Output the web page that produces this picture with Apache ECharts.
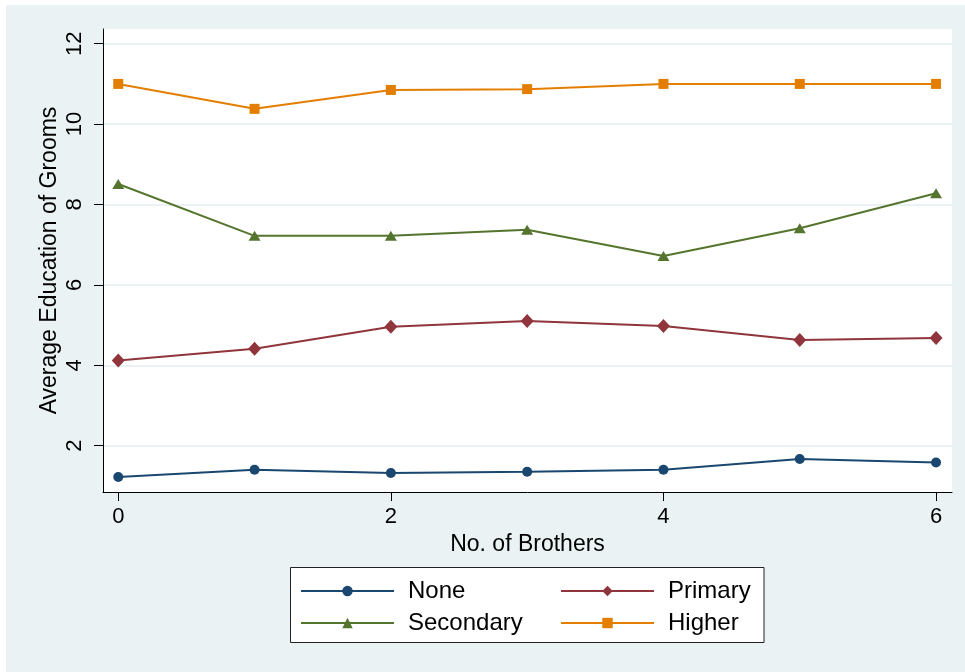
<!DOCTYPE html>
<html>
<head>
<meta charset="utf-8">
<script src="https://cdn.jsdelivr.net/npm/echarts@6/dist/echarts.min.js"></script>
<style>
  html, body { margin: 0; padding: 0; background: #ffffff; }
  #chart { width: 965px; height: 672px; }
</style>
</head>
<body>
<div id="chart"></div>
<script>
// Number of brothers (x) and average education of grooms per father's education group
const brothers = [0, 1, 2, 3, 4, 5, 6];
const none = [1.22, 1.40, 1.32, 1.35, 1.40, 1.67, 1.58];
const primary = [4.12, 4.41, 4.96, 5.10, 4.98, 4.63, 4.68];
const secondary = [8.51, 7.22, 7.22, 7.37, 6.72, 7.41, 8.28];
const higher = [11.0, 10.38, 10.85, 10.87, 11.0, 11.0, 11.0];

const xTicks = [0, 2, 4, 6];
const yTicks = [2, 4, 6, 8, 10, 12];

const BG = '#eaf2f3';
const FONT = '"Liberation Sans", Arial, sans-serif';

function pairs(ys) {
  return brothers.map((x, i) => [x, ys[i]]);
}

function lineSeries(name, ys, color, symbol, size) {
  return {
    name: name,
    type: 'line',
    data: pairs(ys),
    symbol: symbol,
    symbolSize: size,
    showAllSymbol: true,
    lineStyle: { color: color, width: 2 },
    itemStyle: { color: color },
    emphasis: { disabled: true },
    animation: false,
    z: 3
  };
}

const chart = echarts.init(document.getElementById('chart'), null, { renderer: 'canvas' });

const legendCommon = {
  orient: 'vertical',
  itemWidth: 93,
  itemHeight: 13,
  itemGap: 8,
  padding: 0,
  selectedMode: false,
  textStyle: {
    fontFamily: FONT,
    fontSize: 24,
    color: '#000',
    padding: [0, 0, 0, 9]
  }
};

chart.setOption({
  backgroundColor: '#ffffff',
  animation: false,
  graphic: [
    {
      type: 'rect', z: -10, silent: true,
      shape: { x: 6, y: 5, width: 965, height: 672 },
      style: { fill: BG }
    },
    {
      type: 'rect', z: -5, silent: true,
      shape: { x: 290.5, y: 567.5, width: 473.5, height: 75 },
      style: { fill: '#ffffff', stroke: '#222', lineWidth: 1 }
    }
  ],
  grid: {
    left: 103, top: 29, right: 13, bottom: 180,
    show: true, backgroundColor: '#ffffff', borderWidth: 0
  },
  legend: [
    Object.assign({ data: ['None', 'Secondary'], left: 300, top: 579 }, legendCommon),
    Object.assign({ data: ['Primary', 'Higher'], left: 560, top: 579 }, legendCommon)
  ],
  xAxis: {
    type: 'value',
    min: -0.112,
    max: 6.117,
    name: 'No. of Brothers',
    nameLocation: 'middle',
    nameGap: 38,
    nameTextStyle: { fontFamily: FONT, fontSize: 23, color: '#000' },
    axisLine: { show: true, onZero: false, lineStyle: { color: '#000', width: 1 } },
    axisTick: { show: true, length: 9, customValues: xTicks, lineStyle: { color: '#000' } },
    axisLabel: { customValues: xTicks, margin: 14, fontFamily: FONT, fontSize: 22, color: '#000' },
    splitLine: { show: false }
  },
  yAxis: {
    type: 'value',
    min: 0.848,
    max: 12.366,
    name: 'Average Education of Grooms',
    nameLocation: 'middle',
    nameGap: 42,
    nameMoveOverlap: false,
    nameRotate: 90,
    nameTextStyle: { fontFamily: FONT, fontSize: 23, color: '#000' },
    axisLine: { show: true, onZero: false, lineStyle: { color: '#000', width: 1 } },
    axisTick: { show: true, length: 9, customValues: yTicks, lineStyle: { color: '#000' } },
    axisLabel: { customValues: yTicks, rotate: 90, margin: 17, fontFamily: FONT, fontSize: 22, color: '#000' },
    splitLine: { show: true, lineStyle: { color: BG, width: 2 } }
  },
  series: [
    lineSeries('None', none, '#1a476f', 'circle', 10),
    lineSeries('Primary', primary, '#90353b', 'diamond', [13, 14]),
    lineSeries('Secondary', secondary, '#55752f', 'triangle', [12, 10]),
    lineSeries('Higher', higher, '#e37e00', 'rect', 10)
  ]
});
</script>
</body>
</html>
